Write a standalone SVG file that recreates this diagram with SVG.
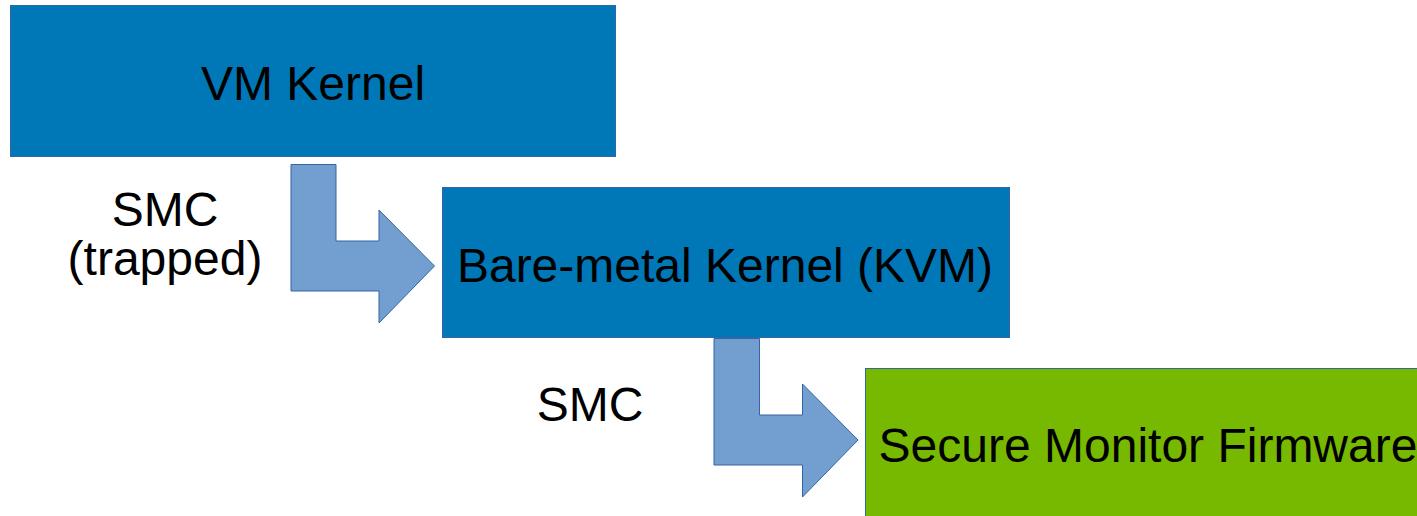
<svg xmlns="http://www.w3.org/2000/svg" width="1417" height="516" viewBox="0 0 1417 516">
  <style>
    .box { fill: #0077b7; stroke: #3465a4; stroke-width: 1; }
    .fw { fill: #77b800; stroke: #3465a4; stroke-width: 1; }
    .arrow { fill: #729fcf; stroke: #3465a4; stroke-width: 1; stroke-linejoin: miter; }
    text { font-family: "Liberation Sans", Arial, sans-serif; font-size: 48px; fill: #000; text-anchor: middle; }
  </style>
  <rect width="1417" height="516" fill="#ffffff"/>

  <g id="vm-kernel">
    <rect class="box" x="10.5" y="5.5" width="605" height="151"/>
    <text x="313" y="100">VM Kernel</text>
  </g>

  <g id="bare-metal-kernel">
    <rect class="box" x="442.5" y="187.5" width="567" height="150"/>
    <text x="725" y="282">Bare-metal Kernel (KVM)</text>
  </g>

  <g id="secure-monitor-firmware">
    <rect class="fw" x="865.5" y="368.5" width="580" height="160"/>
    <text x="1148" y="462">Secure Monitor Firmware</text>
  </g>

  <g id="connectors">
    <!-- VM Kernel to bare-metal kernel (trapped SMC) -->
    <path class="arrow" d="M291,164.5 H336 V241 H379 V210 L434.5,266 L379,323 V291 H291 Z"/>
    <!-- bare-metal kernel to secure monitor -->
    <path class="arrow" d="M714,338.5 H759.5 V415 H802.5 V384 L858,440 L802.5,497 V465 H714 Z"/>
    <text x="165" y="226">SMC</text>
    <text x="165" y="275">(trapped)</text>
    <text x="590" y="421">SMC</text>
  </g>
</svg>
